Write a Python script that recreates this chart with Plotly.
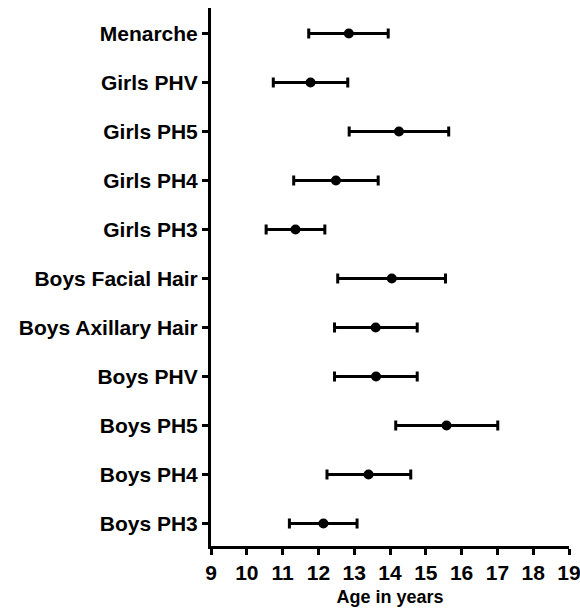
import plotly.graph_objects as go

categories = ["Boys PH3", "Boys PH4", "Boys PH5", "Boys PHV", "Boys Axillary Hair",
              "Boys Facial Hair", "Girls PH3", "Girls PH4", "Girls PH5", "Girls PHV", "Menarche"]
means = [12.14, 13.40, 15.58, 13.61, 13.60, 14.05, 11.36, 12.49, 14.25, 11.78, 12.85]
lower = [11.19, 12.24, 14.16, 12.45, 12.45, 12.54, 10.54, 11.31, 12.86, 10.74, 11.73]
upper = [13.08, 14.58, 17.01, 14.76, 14.76, 15.55, 12.18, 13.67, 15.64, 12.82, 13.95]
x_ticks = list(range(9, 20))

ypos = list(range(len(categories)))
err_plus = [u - m for u, m in zip(upper, means)]
err_minus = [m - l for m, l in zip(means, lower)]

fig = go.Figure()
fig.add_trace(go.Scatter(
    x=means, y=ypos, mode="markers",
    marker=dict(color="black", size=10, symbol="circle"),
    error_x=dict(type="data", symmetric=False, array=err_plus, arrayminus=err_minus,
                 color="black", thickness=3, width=5),
    showlegend=False,
))

font_family = "Liberation Sans, Arial, sans-serif"
fig.update_layout(
    width=580, height=608,
    margin=dict(l=211, r=11, t=8, b=62, autoexpand=False),
    paper_bgcolor="white", plot_bgcolor="white",
    font=dict(family=font_family, color="black"),
    showlegend=False,
    xaxis=dict(
        range=[9, 19], tickvals=x_ticks, ticktext=[str(v) for v in x_ticks],
        showline=True, linecolor="black", linewidth=3,
        ticks="outside", ticklen=6, tickwidth=3, tickcolor="black",
        showgrid=False, zeroline=False, automargin=False,
        ticklabeloverflow="allow",
        tickfont=dict(size=21, weight="bold", family=font_family),
        title=dict(text="Age in years", font=dict(size=18, weight="bold", family=font_family), standoff=8),
    ),
    yaxis=dict(
        range=[-0.46, 10.52], tickvals=ypos, ticktext=categories,
        showline=True, linecolor="black", linewidth=3,
        ticks="outside", ticklen=6, tickwidth=3, tickcolor="black",
        showgrid=False, zeroline=False, automargin=False,
        ticklabeloverflow="allow",
        tickfont=dict(size=21, weight="bold", family=font_family),
    ),
)

fig.write_html("out.html")
